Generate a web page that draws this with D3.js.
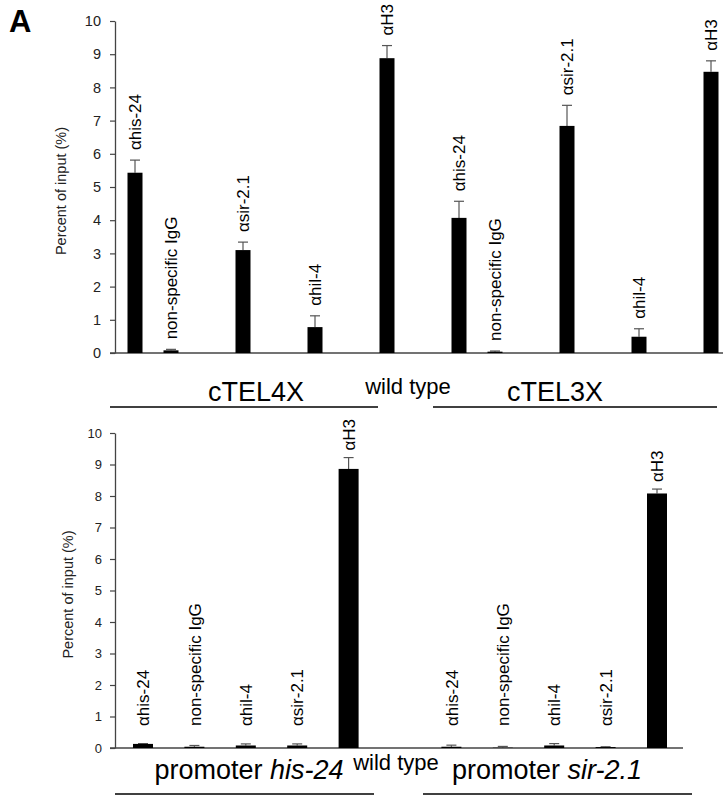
<!DOCTYPE html>
<html>
<head>
<meta charset="utf-8">
<script src="https://cdn.jsdelivr.net/npm/d3@7"></script>
<style>
  body { margin: 0; background: #fff; }
  svg { display: block; font-family: Arial, "Liberation Sans", sans-serif; }
</style>
</head>
<body>
<svg id="chart" width="723" height="799"></svg>
<script>
// values (percent of input)
const topCategories = ["αhis-24", "non-specific IgG", "αsir-2.1", "αhil-4", "αH3",
                       "αhis-24", "non-specific IgG", "αsir-2.1", "αhil-4", "αH3"];
const topValues = [5.43, 0.08, 3.10, 0.78, 8.88, 4.07, 0.04, 6.84, 0.49, 8.47];
const topErrors = [0.38, 0.03, 0.24, 0.34, 0.38, 0.50, 0.02, 0.62, 0.24, 0.33];

const bottomCategories = ["αhis-24", "non-specific IgG", "αhil-4", "αsir-2.1", "αH3",
                          "αhis-24", "non-specific IgG", "αhil-4", "αsir-2.1", "αH3"];
const bottomValues = [0.13, 0.04, 0.08, 0.08, 8.86, 0.04, 0.01, 0.08, 0.03, 8.08];
const bottomErrors = [0.01, 0.04, 0.05, 0.05, 0.36, 0.05, 0.04, 0.06, 0.01, 0.14];

const yTicks = [0, 1, 2, 3, 4, 5, 6, 7, 8, 9, 10];
const yLabel = "Percent of input (%)";
const strainLabel = "wild type";
const topGroups = ["cTEL4X", "cTEL3X"];
const bottomGroups = [["promoter ", "his-24"], ["promoter ", "sir-2.1"]];

const svg = d3.select("#chart");
svg.append("rect").attr("width", 723).attr("height", 799).attr("fill", "#fff");

svg.append("text")
  .attr("x", 9).attr("y", 32)
  .attr("font-size", 31).attr("font-weight", "bold")
  .text("A");

function drawPanel(cfg) {
  const data = cfg.categories.map((c, i) => ({ label: c, v: cfg.values[i], e: cfg.errors[i], slot: cfg.slots[i] }));

  const x = d3.scaleLinear().domain(cfg.slotDomain).range(cfg.xRange);
  const y = d3.scaleLinear().domain([0, 10]).range(cfg.yRange);
  const g = svg.append("g");

  // y axis
  g.append("g")
    .attr("transform", `translate(${cfg.axisX},0)`)
    .call(d3.axisLeft(y).tickValues(yTicks).tickSize(5).tickPadding(cfg.tickPad).tickSizeOuter(0))
    .call(a => a.select(".domain").attr("stroke", "#444").attr("stroke-width", 1.3))
    .call(a => a.selectAll(".tick line").attr("stroke", "#444").attr("stroke-width", 1.2))
    .call(a => a.selectAll(".tick text").attr("fill", "#222").attr("font-size", cfg.tickFont)
      .attr("font-family", "Arial, 'Liberation Sans', sans-serif"));

  // baseline
  g.append("line")
    .attr("x1", cfg.axisX - 5).attr("x2", cfg.baseEnd)
    .attr("y1", y(0)).attr("y2", y(0))
    .attr("stroke", "#444").attr("stroke-width", 1.3);

  g.append("text")
    .attr("transform", `translate(${cfg.yLabelX},${(cfg.yRange[0] + cfg.yRange[1]) / 2 + 4}) rotate(-90)`)
    .attr("text-anchor", "middle")
    .attr("font-size", 14.5)
    .attr("fill", "#222")
    .text(yLabel);

  // error bars
  g.selectAll(".err").data(data).join("g")
    .attr("stroke", "#555").attr("stroke-width", 1.2)
    .call(s => s.append("line")
      .attr("x1", d => x(d.slot)).attr("x2", d => x(d.slot))
      .attr("y1", d => y(d.v)).attr("y2", d => y(d.v + d.e)))
    .call(s => s.append("line")
      .attr("x1", d => x(d.slot) - cfg.cap / 2).attr("x2", d => x(d.slot) + cfg.cap / 2)
      .attr("y1", d => y(d.v + d.e)).attr("y2", d => y(d.v + d.e)));

  // bars
  g.selectAll(".bar").data(data).join("rect")
    .attr("x", d => x(d.slot) - cfg.barW / 2)
    .attr("width", cfg.barW)
    .attr("y", d => y(d.v))
    .attr("height", d => y(0) - y(d.v))
    .attr("fill", "#000");

  // rotated antibody labels
  g.selectAll(".lab").data(data).join("text")
    .attr("transform", d => `translate(${x(d.slot)},${cfg.labelY(y, d)}) rotate(-90)`)
    .attr("dy", "0.36em")
    .attr("font-size", 17)
    .text(d => d.label);

  return { x, y };
}

drawPanel({
  categories: topCategories, values: topValues, errors: topErrors,
  slots: [0, 1, 3, 5, 7, 9, 10, 12, 14, 16],
  slotDomain: [0, 16], xRange: [135, 711],
  yRange: [353, 21], axisX: 115, baseEnd: 723,
  tickFont: 14.5, tickPad: 9, yLabelX: 66,
  barW: 15, cap: 10,
  labelY: (y, d) => y(d.v + d.e) - 10
});

drawPanel({
  categories: bottomCategories, values: bottomValues, errors: bottomErrors,
  slots: [0, 1, 2, 3, 4, 6, 7, 8, 9, 10],
  slotDomain: [0, 10], xRange: [143, 657],
  yRange: [748, 433], axisX: 115, baseEnd: 683,
  tickFont: 13, tickPad: 8, yLabelX: 73,
  barW: 20, cap: 10,
  labelY: (y, d) => Math.min(y(d.v + d.e) - 7, y(0) - 22)
});

// group annotations, top panel
const annot = svg.append("g").attr("fill", "#000");
[[110, 378], [433, 717]].forEach(p => {
  annot.append("line").attr("x1", p[0]).attr("x2", p[1]).attr("y1", 407).attr("y2", 407)
    .attr("stroke", "#000").attr("stroke-width", 1.5);
});
annot.append("text").attr("x", 256).attr("y", 401).attr("text-anchor", "middle")
  .attr("font-size", 27).text(topGroups[0]);
annot.append("text").attr("x", 555).attr("y", 401).attr("text-anchor", "middle")
  .attr("font-size", 27).text(topGroups[1]);
annot.append("text").attr("x", 408).attr("y", 394).attr("text-anchor", "middle")
  .attr("font-size", 22).text(strainLabel);

// group annotations, bottom panel
[[115, 374], [423, 692]].forEach(p => {
  annot.append("line").attr("x1", p[0]).attr("x2", p[1]).attr("y1", 794).attr("y2", 794)
    .attr("stroke", "#000").attr("stroke-width", 1.5);
});
[249, 547].forEach((cx, i) => {
  const t = annot.append("text").attr("x", cx).attr("y", 779).attr("text-anchor", "middle")
    .attr("font-size", 27);
  t.append("tspan").text(bottomGroups[i][0]);
  t.append("tspan").attr("font-style", "italic").text(bottomGroups[i][1]);
});
annot.append("text").attr("x", 396).attr("y", 770).attr("text-anchor", "middle")
  .attr("font-size", 22).text(strainLabel);
</script>
</body>
</html>
